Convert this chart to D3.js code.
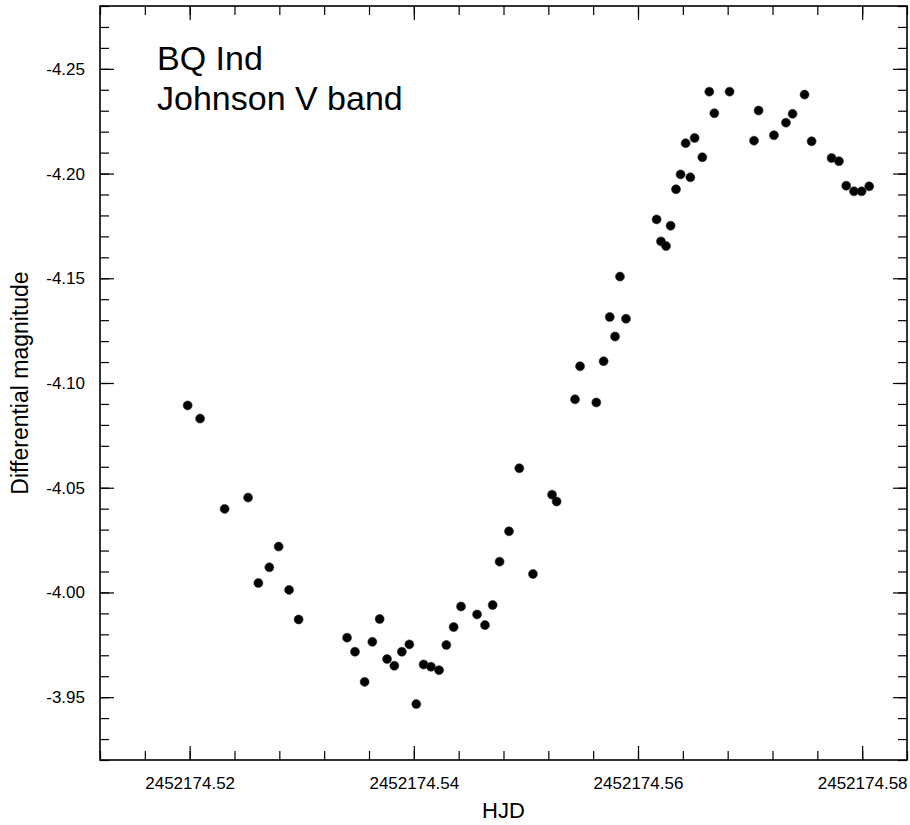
<!DOCTYPE html>
<html>
<head>
<meta charset="utf-8">
<script src="https://cdn.jsdelivr.net/npm/d3@7"></script>
<style>
  body { margin: 0; background: #fff; }
  svg text { font-family: Arial, "Liberation Sans", sans-serif; fill: #000; }
  .tick text { font-size: 17px; }
</style>
</head>
<body>
<div id="chart"></div>
<script>
// BQ Ind, Johnson V light curve
var hjd = [
  2452174.51982, 2452174.52093, 2452174.52312, 2452174.52521, 2452174.52613,
  2452174.52711, 2452174.52794, 2452174.52887, 2452174.52972, 2452174.53404,
  2452174.53475, 2452174.53561, 2452174.53630, 2452174.53695, 2452174.53761,
  2452174.53826, 2452174.53893, 2452174.53960, 2452174.54022, 2452174.54087,
  2452174.54153, 2452174.54225, 2452174.54290, 2452174.54355, 2452174.54421,
  2452174.54564, 2452174.54635, 2452174.54703, 2452174.54765, 2452174.54849,
  2452174.54941, 2452174.55063, 2452174.55233, 2452174.55274, 2452174.55438,
  2452174.55483, 2452174.55628, 2452174.55693, 2452174.55748, 2452174.55795,
  2452174.55839, 2452174.55893, 2452174.56166, 2452174.56205, 2452174.56250,
  2452174.56291, 2452174.56339, 2452174.56380, 2452174.56425, 2452174.56467,
  2452174.56505, 2452174.56574, 2452174.56636, 2452174.56681, 2452174.56817,
  2452174.57035, 2452174.57076, 2452174.57213, 2452174.57320, 2452174.57379,
  2452174.57486, 2452174.57549, 2452174.57727, 2452174.57793, 2452174.57858,
  2452174.57927, 2452174.57995, 2452174.58063
];
var dmag = [
  -4.0893, -4.0830, -4.0399, -4.0453, -4.0045,
  -4.0120, -4.0219, -4.0012, -3.9871, -3.9784,
  -3.9717, -3.9573, -3.9764, -3.9873, -3.9682,
  -3.9650, -3.9717, -3.9752, -3.9467, -3.9656,
  -3.9645, -3.9629, -3.9749, -3.9835, -3.9933,
  -3.9895, -3.9844, -3.9940, -4.0147, -4.0292,
  -4.0593, -4.0088, -4.0467, -4.0434, -4.0922,
  -4.1080, -4.0907, -4.1104, -4.1315, -4.1222,
  -4.1508, -4.1307, -4.1781, -4.1676, -4.1654,
  -4.1751, -4.1925, -4.1996, -4.2145, -4.1982,
  -4.2170, -4.2078, -4.2391, -4.2288, -4.2391,
  -4.2157, -4.2301, -4.2183, -4.2243, -4.2285,
  -4.2377, -4.2154, -4.2074, -4.2059, -4.1942,
  -4.1915, -4.1915, -4.1939
];
var xTicks = [2452174.52, 2452174.54, 2452174.56, 2452174.58];
var yTicks = [-4.25, -4.20, -4.15, -4.10, -4.05, -4.00, -3.95];
var titleLines = ["BQ Ind", "Johnson V band"];
var xTitle = "HJD";
var yTitle = "Differential magnitude";

var w = 910, h = 825;
var pLeft = 100, pRight = 907, pTop = 6, pBottom = 760;

var xScale = d3.scaleLinear()
    .domain([2452174.512, 2452174.584])
    .range([pLeft, pRight]);
var yScale = d3.scaleLinear()
    .domain([-4.28, -3.92])
    .range([pTop, pBottom]);

// minor ticks every 0.004 d and 0.01 mag
var xMinor = d3.range(0, 19).map(function(i){ return 2452174.512 + i*0.004; });
var yMinor = d3.range(0, 37).map(function(i){ return -4.28 + i*0.01; });

var svg = d3.select("#chart")
    .append("svg")
    .attr("width", w)
    .attr("height", h);

function fmt(d){ return d.toFixed(2); }

// minor ticks (no labels) on all four sides
svg.append("g").attr("transform", "translate(0," + pBottom + ")")
    .call(d3.axisBottom(xScale).tickValues(xMinor).tickSizeInner(-9).tickSizeOuter(0).tickFormat(""));
svg.append("g").attr("transform", "translate(0," + pTop + ")")
    .call(d3.axisTop(xScale).tickValues(xMinor).tickSizeInner(-9).tickSizeOuter(0).tickFormat(""));
svg.append("g").attr("transform", "translate(" + pLeft + ",0)")
    .call(d3.axisLeft(yScale).tickValues(yMinor).tickSizeInner(-9).tickSizeOuter(0).tickFormat(""));
svg.append("g").attr("transform", "translate(" + pRight + ",0)")
    .call(d3.axisRight(yScale).tickValues(yMinor).tickSizeInner(-9).tickSizeOuter(0).tickFormat(""));

// major ticks
svg.append("g").attr("class", "x axis").attr("transform", "translate(0," + pBottom + ")")
    .call(d3.axisBottom(xScale).tickValues(xTicks).tickSizeInner(-14).tickSizeOuter(0)
        .tickPadding(17).tickFormat(fmt));
svg.append("g").attr("transform", "translate(0," + pTop + ")")
    .call(d3.axisTop(xScale).tickValues(xTicks).tickSizeInner(-14).tickSizeOuter(0).tickFormat(""));
svg.append("g").attr("class", "y axis").attr("transform", "translate(" + pLeft + ",0)")
    .call(d3.axisLeft(yScale).tickValues(yTicks).tickSizeInner(-14).tickSizeOuter(0)
        .tickPadding(15).tickFormat(fmt));
svg.append("g").attr("transform", "translate(" + pRight + ",0)")
    .call(d3.axisRight(yScale).tickValues(yTicks).tickSizeInner(-14).tickSizeOuter(0).tickFormat(""));

svg.selectAll(".domain").remove();
svg.selectAll(".tick line").attr("stroke", "#000").attr("stroke-width", 1.2);

// frame
svg.append("rect")
    .attr("x", pLeft).attr("y", pTop)
    .attr("width", pRight - pLeft).attr("height", pBottom - pTop)
    .attr("fill", "none")
    .attr("stroke", "#000")
    .attr("stroke-width", 1.6);

// points
var pts = hjd.map(function(d, i){ return {x: d, y: dmag[i]}; });
svg.selectAll("circle.pt")
    .data(pts)
    .enter()
    .append("circle")
    .attr("class", "pt")
    .attr("cx", function(d){ return xScale(d.x); })
    .attr("cy", function(d){ return yScale(d.y); })
    .attr("r", 4.5)
    .attr("fill", "#000")
    .attr("stroke", "#333")
    .attr("stroke-width", 0.6);

// title in the plot
svg.selectAll("text.title")
    .data(titleLines)
    .enter()
    .append("text")
    .attr("class", "title")
    .attr("x", 157)
    .attr("y", function(d, i){ return 70 + i*40; })
    .style("font-size", "34px")
    .text(function(d){ return d; });

svg.append("text")
    .attr("x", (pLeft + pRight)/2)
    .attr("y", 818)
    .style("text-anchor", "middle")
    .style("font-size", "22px")
    .text(xTitle);

svg.append("text")
    .attr("transform", "translate(28," + ((pTop + pBottom)/2) + ") rotate(-90)")
    .style("text-anchor", "middle")
    .style("font-size", "23px")
    .text(yTitle);
</script>
</body>
</html>
